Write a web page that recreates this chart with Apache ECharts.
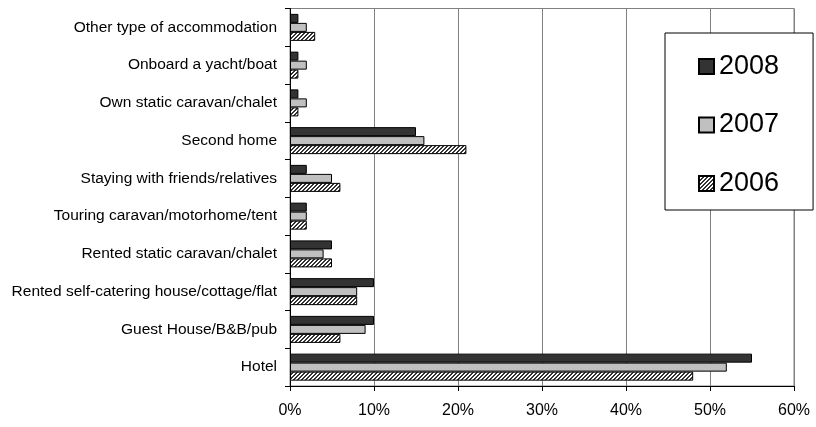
<!DOCTYPE html>
<html>
<head>
<meta charset="utf-8">
<script src="https://cdn.jsdelivr.net/npm/echarts@6/dist/echarts.min.js"></script>
<style>
html,body{margin:0;padding:0;background:#fff;}
#chart{width:816px;height:427px;}
</style>
</head>
<body>
<div id="chart"></div>
<script>
const categories = ['Hotel','Guest House/B&B/pub','Rented self-catering house/cottage/flat','Rented static caravan/chalet','Touring caravan/motorhome/tent','Staying with friends/relatives','Second home','Own static caravan/chalet','Onboard a yacht/boat','Other type of accommodation'];
const v2008 = [55,10,10,5,2,2,15,1,1,1];
const v2007 = [52,9,8,4,2,5,16,2,2,2];
const v2006 = [48,6,8,5,2,6,21,1,1,3];
const xTicks = [0,10,20,30,40,50,60];

function hatch(){
  const c = document.createElement('canvas');
  c.width = 8; c.height = 8;
  const g = c.getContext('2d');
  g.fillStyle = '#ffffff'; g.fillRect(0,0,8,8);
  g.fillStyle = '#333333';
  for (let x=0;x<8;x++) for (let y=0;y<8;y++) if ((x+y)%4 < 2) g.fillRect(x,y,1,1);
  return c;
}
const pattern = {image: hatch(), repeat: 'repeat'};

const chart = echarts.init(document.getElementById('chart'), null, {renderer:'canvas'});
const font = 'Liberation Sans, Arial, sans-serif';
function bar(name, data, color){
  return {name, type:'bar', data, barWidth:9, barGap:'0%',
    itemStyle:{color, borderColor:'#000', borderWidth:1}, animation:false};
}
chart.setOption({
  animation:false,
  textStyle:{fontFamily:font},
  grid:{left:290, right:22, top:8.5, bottom:41, show:true, borderColor:'#808080', borderWidth:1, backgroundColor:'transparent'},
  legend:{
    orient:'vertical', left:665, top:33,
    padding:[20,34,13,33],
    itemWidth:15, itemHeight:15, itemGap:31.5, icon:'rect',
    backgroundColor:'#fff', borderColor:'#000', borderWidth:1,
    textStyle:{fontSize:27, lineHeight:26, color:'#000', fontFamily:font},
    data:['2008','2007','2006']
  },
  xAxis:{
    type:'value', min:xTicks[0], max:xTicks[xTicks.length-1], interval:10,
    axisLine:{show:true, lineStyle:{color:'#000', width:1}},
    axisTick:{show:true, length:5, lineStyle:{color:'#000'}},
    axisLabel:{formatter:'{value}%', fontSize:16, color:'#000', margin:17, fontFamily:font},
    splitLine:{show:true, lineStyle:{color:'#808080', width:1}}
  },
  yAxis:{
    type:'category', data:categories,
    axisLine:{show:true, lineStyle:{color:'#000', width:1}},
    axisTick:{show:true, length:5, lineStyle:{color:'#000'}},
    axisLabel:{fontSize:15.5, color:'#000', margin:13, fontFamily:font},
    splitLine:{show:false}
  },
  series:[
    bar('2008', v2008, '#333333'),
    bar('2007', v2007, '#c0c0c0'),
    bar('2006', v2006, pattern)
  ]
});
</script>
</body>
</html>
